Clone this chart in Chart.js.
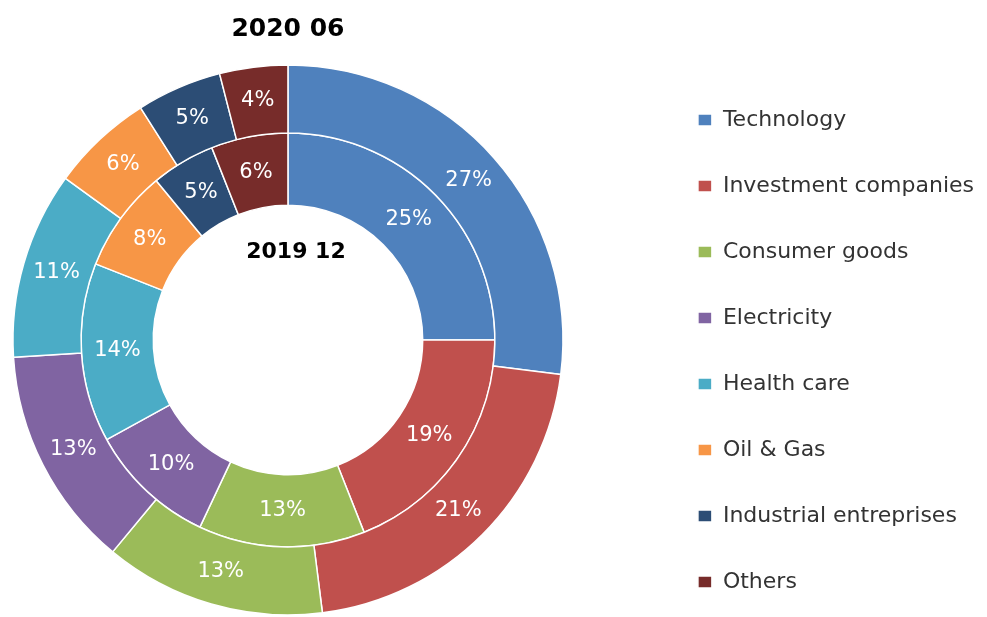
<!DOCTYPE html>
<html><head><meta charset="utf-8">
<script src="https://cdn.jsdelivr.net/npm/chart.js@4.4.1/dist/chart.umd.min.js"></script>
<style>html,body{margin:0;padding:0;background:#fff;overflow:hidden;}</style>
</head><body>
<canvas id="c" width="987" height="617"></canvas>
<script>
const categories = ['Technology','Investment companies','Consumer goods','Electricity','Health care','Oil & Gas','Industrial entreprises','Others'];
const outerLabel = '2020 06';
const innerLabel = '2019 12';
const values2020_06 = [27, 21, 13, 13, 11, 6, 5, 4];
const values2019_12 = [25, 19, 13, 10, 14, 8, 5, 6];
const colors = ['#4F81BD','#C0504D','#9BBB59','#8064A2','#4BACC6','#F79646','#2C4D75','#772C2A'];

const FONT = "'DejaVu Sans', sans-serif";

const pctLabels = {
  id: 'pctLabels',
  afterDatasetsDraw(chart) {
    const ctx = chart.ctx;
    ctx.save();
    ctx.textAlign = 'center';
    ctx.textBaseline = 'middle';
    ctx.font = '21px ' + FONT;
    ctx.fillStyle = '#ffffff';
    chart.data.datasets.forEach((ds, di) => {
      const meta = chart.getDatasetMeta(di);
      meta.data.forEach((arc, i) => {
        const p = arc.tooltipPosition();
        ctx.fillText(ds.data[i] + '%', p.x, p.y);
      });
    });
    const arc0 = chart.getDatasetMeta(1).data[0];
    ctx.fillStyle = '#000000';
    ctx.font = 'bold 22px ' + FONT;
    ctx.fillText(innerLabel, arc0.x + 8, arc0.y - 88);
    ctx.restore();
  }
};

new Chart(document.getElementById('c'), {
  type: 'doughnut',
  data: {
    labels: categories,
    datasets: [
      { label: outerLabel, data: values2020_06, backgroundColor: colors, borderColor: '#ffffff', borderWidth: 1.5, weight: 68 },
      { label: innerLabel, data: values2019_12, backgroundColor: colors, borderColor: '#ffffff', borderWidth: 1.5, weight: 72 }
    ]
  },
  options: {
    responsive: false,
    animation: false,
    events: [],
    radius: 275,
    cutout: '49%',
    layout: { padding: { top: 0, left: -400, right: 3, bottom: -24 } },
    plugins: {
      tooltip: { enabled: false },
      title: {
        display: true,
        text: outerLabel,
        fullSize: false,
        color: '#000000',
        font: { family: FONT, size: 25, weight: 'bold', lineHeight: 1 },
        padding: { top: 16.5, bottom: 21.5 }
      },
      subtitle: {
        display: true,
        text: '',
        position: 'right',
        weight: 500,
        fullSize: false,
        font: { size: 12, lineHeight: 1 },
        padding: { top: 66, bottom: 0 }
      },
      legend: {
        position: 'right',
        align: 'start',
        title: { display: true, text: '', font: { size: 12, lineHeight: 1 }, padding: { top: 53, bottom: 0 } },
        labels: {
          color: '#333333',
          font: { family: FONT, size: 22 },
          boxWidth: 14,
          boxHeight: 12,
          padding: 44
        }
      }
    }
  },
  plugins: [pctLabels]
});
</script>
</body></html>
